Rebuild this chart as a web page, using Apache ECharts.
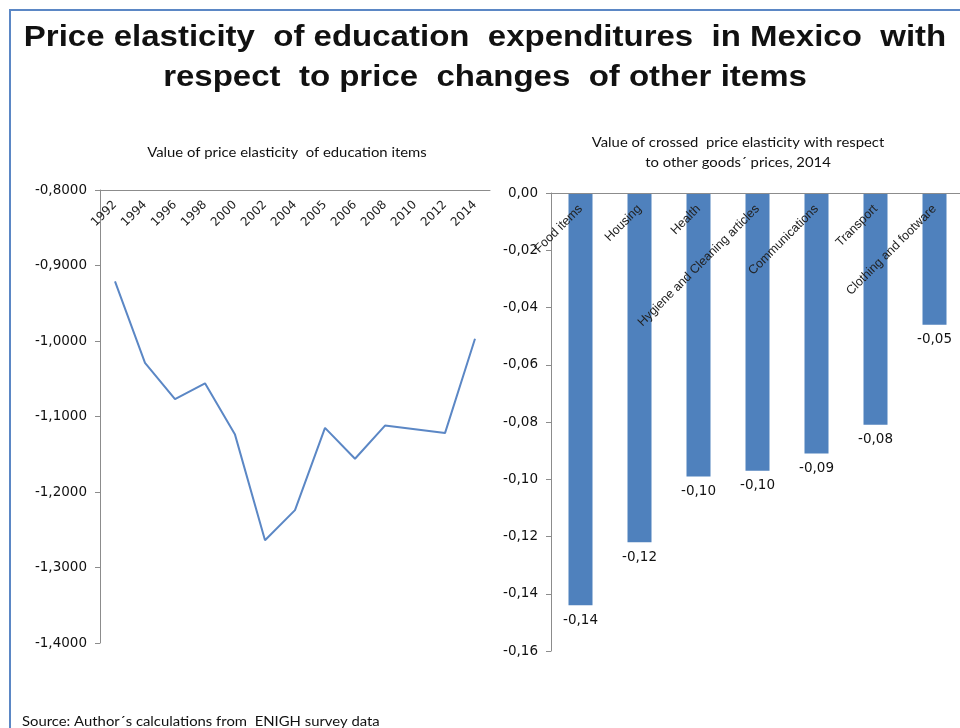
<!DOCTYPE html>
<html>
<head>
<meta charset="utf-8">
<script src="https://cdn.jsdelivr.net/npm/echarts@6/dist/echarts.min.js"></script>
<style>
  html, body { margin: 0; padding: 0; background: #fff; }
  #chart { width: 960px; height: 728px; }
</style>
</head>
<body>
<div id="chart"></div>
<script>
// left: price elasticity of education items by survey year
const years = ['1992', '1994', '1996', '1998', '2000', '2002', '2004', '2005', '2006', '2008', '2010', '2012', '2014']
const elasticity = [-0.921, -1.029, -1.077, -1.056, -1.124, -1.264, -1.224, -1.115, -1.156, -1.112, -1.117, -1.122, -0.997]

// right: crossed price elasticity, 2014
const goods = ['Food items', 'Housing', 'Health', 'Hygiene and Cleaning articles', 'Communications', 'Transport', 'Clothing and footware']
const crossed = [-0.144, -0.122, -0.099, -0.097, -0.091, -0.081, -0.046]

const blue = '#4f81bd'
const axisGray = '#8c8c8c'
const tickFont = 'DejaVu Sans, sans-serif'
const comma = (v, d) => v.toFixed(d).replace('.', ',')

// the picture is a bit stretched sideways, so free texts get scaleX
const stretched = (text, x, y, font, align) => ({
  type: 'text',
  x: x,
  y: y,
  scaleX: 1.1,
  silent: true,
  style: {
    text: text,
    x: 0,
    y: 0,
    font: font,
    fill: '#111',
    textAlign: align || 'center',
    textVerticalAlign: 'middle'
  }
})

const titleFont = 'bold 30px "Liberation Sans", Arial, sans-serif'
const smallFont = '13.5px Lato, sans-serif'

const myChart = echarts.init(document.getElementById('chart'))

const options = {
  animation: false,
  backgroundColor: '#fff',
  textStyle: { fontFamily: 'Liberation Sans, Arial, sans-serif' },
  graphic: [
    {
      type: 'polyline',
      shape: { points: [[10, 728], [10, 10], [960, 10]] },
      style: { stroke: '#5b87c5', lineWidth: 2, fill: null }
    },
    stretched('Price elasticity  of education  expenditures  in Mexico  with', 485, 38, titleFont),
    stretched('respect  to price  changes  of other items', 485, 78, titleFont),
    stretched('Value of price elasticity  of education items', 287, 153, smallFont),
    stretched('Value of crossed  price elasticity with respect', 738, 143, smallFont),
    stretched('to other goods´ prices, 2014', 738, 163, smallFont),
    stretched('Source: Author´s calculations from  ENIGH survey data', 22, 722, smallFont, 'left')
  ],
  grid: [
    { left: 100, top: 190, width: 390, bottom: 85, outerBoundsMode: 'none' },
    { left: 551, top: 193, width: 413, bottom: 77, outerBoundsMode: 'none' }
  ],
  xAxis: [
    {
      gridIndex: 0,
      type: 'category',
      position: 'top',
      data: years,
      boundaryGap: true,
      axisLine: { lineStyle: { color: axisGray } },
      axisTick: { lineStyle: { color: axisGray }, length: 5 },
      axisLabel: { inside: true, rotate: -45, interval: 0, fontSize: 12, fontFamily: tickFont, color: '#222', margin: 13 }
    },
    {
      // this one sits on zero, so the label rotation flips compared to the left axis
      gridIndex: 1,
      type: 'category',
      position: 'top',
      data: goods,
      axisLine: { lineStyle: { color: axisGray } },
      axisTick: { lineStyle: { color: axisGray }, length: 4 },
      axisLabel: { inside: true, rotate: 45, interval: 0, fontSize: 12.5, color: '#222', margin: 14 },
      z: 10
    }
  ],
  yAxis: [
    {
      gridIndex: 0,
      type: 'value',
      min: -1.4,
      max: -0.8,
      interval: 0.1,
      axisLine: { show: true, lineStyle: { color: axisGray } },
      axisTick: { show: true, lineStyle: { color: axisGray }, length: 5 },
      splitLine: { show: false },
      axisLabel: { fontSize: 13.5, fontFamily: tickFont, color: '#111', margin: 13, formatter: v => comma(v, 4) }
    },
    {
      gridIndex: 1,
      type: 'value',
      min: -0.16,
      max: 0,
      interval: 0.02,
      axisLine: { show: true, lineStyle: { color: axisGray } },
      axisTick: { show: true, lineStyle: { color: axisGray }, length: 5 },
      splitLine: { show: false },
      axisLabel: { fontSize: 13.5, fontFamily: tickFont, color: '#111', margin: 13, formatter: v => comma(v, 2) }
    }
  ],
  series: [
    {
      type: 'line',
      xAxisIndex: 0,
      yAxisIndex: 0,
      data: elasticity,
      showSymbol: false,
      lineStyle: { color: '#5b87c5', width: 2 },
      silent: true
    },
    {
      type: 'bar',
      xAxisIndex: 1,
      yAxisIndex: 1,
      data: crossed,
      barWidth: 24,
      itemStyle: { color: blue },
      label: {
        show: true,
        position: 'bottom',
        distance: 8,
        fontSize: 13.5,
        fontFamily: tickFont,
        color: '#111',
        formatter: p => comma(p.value, 2)
      },
      silent: true
    }
  ]
}

myChart.setOption(options)
</script>
</body>
</html>
